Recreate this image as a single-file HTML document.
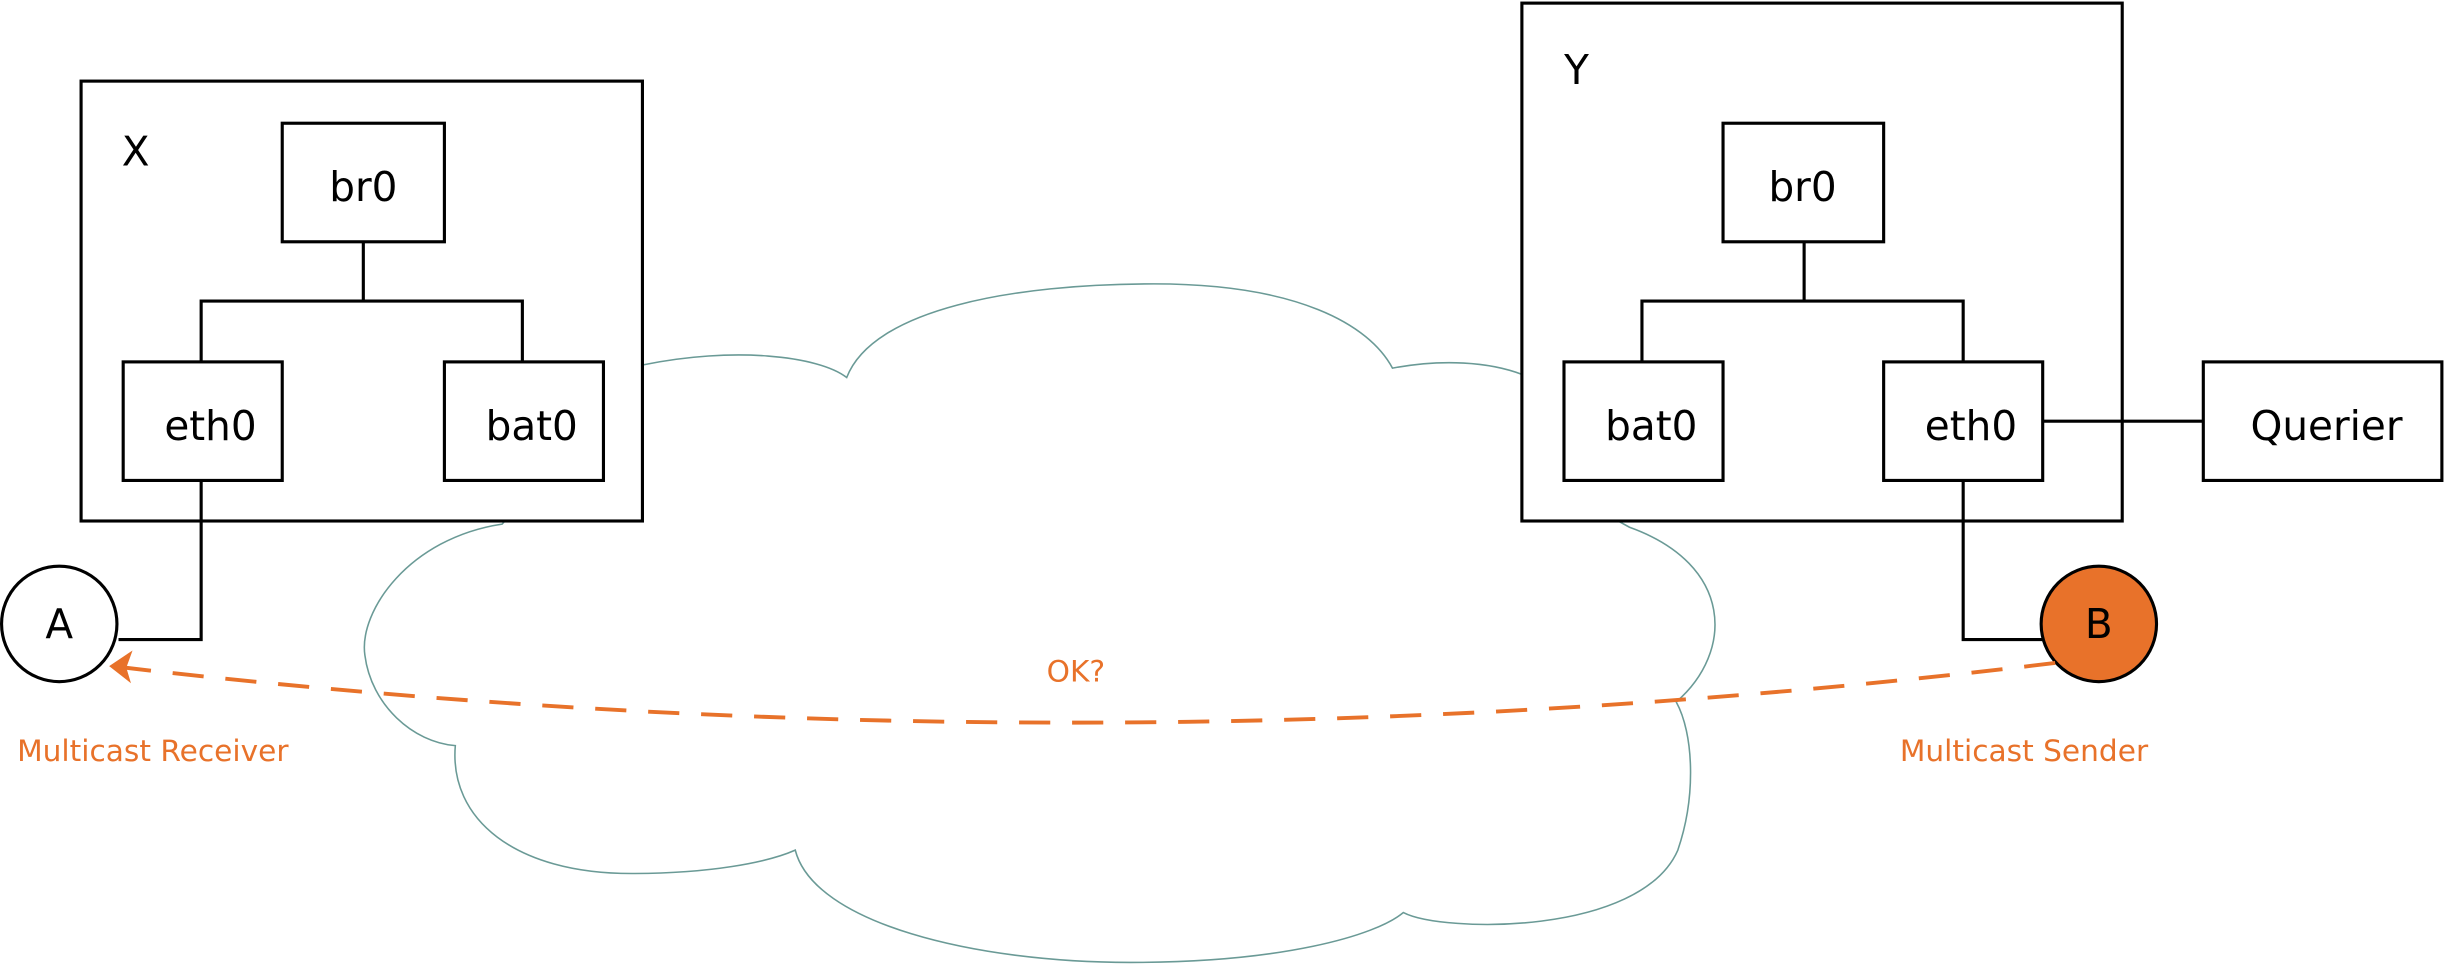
<!DOCTYPE html>
<html><head><meta charset="utf-8"><style>
html,body{margin:0;padding:0;background:#fff;}
svg{display:block;}
text{font-family:"DejaVu Sans","Liberation Sans",sans-serif;}
</style></head><body>
<svg width="2445" height="964" viewBox="0 0 1568 618" preserveAspectRatio="none">
<g fill="#fff" stroke="#6a9a96" stroke-width="1">
<path d="M 322,336 C 262,345 230,392 234,420 C 238,452 265,476 292,478 C 288,525 330,560 405,560 C 455,560 492,553 510,545 C 522,592 625,617 725,617 C 822,617 882,600 900,585 C 925,598 1052,600 1076,545 C 1088,510 1086,470 1075,450 C 1112,418 1112,362 1045,338 L 976,300 L 976,240 C 955,232 925,230 893,236 C 878,208 832,182 740,182 C 650,182 560,198 543,242 C 525,228 470,222 412,234 Z"/>
</g>
<g fill="#fff" stroke="#000" stroke-width="2">
<rect x="52" y="52" width="360" height="282"/>
<rect x="976" y="2" width="385" height="332"/>
<rect x="181" y="79" width="104" height="76"/>
<rect x="79" y="232" width="102" height="76"/>
<rect x="285" y="232" width="102" height="76"/>
<rect x="1105" y="79" width="103" height="76"/>
<rect x="1003" y="232" width="102" height="76"/>
<rect x="1208" y="232" width="102" height="76"/>
<rect x="1413" y="232" width="153" height="76"/>
</g>
<g fill="none" stroke="#000" stroke-width="2">
<path d="M233,155 V193 M129,232 V193 H335 V232"/>
<path d="M1157,155 V193 M1053,232 V193 H1259 V232"/>
<path d="M1310,270 H1413"/>
<path d="M129,308 V410 H76"/>
<path d="M1259,308 V410 H1310"/>
</g>
<circle cx="38" cy="400" r="37" fill="#fff" stroke="#000" stroke-width="2"/>
<circle cx="1346" cy="400" r="37" fill="#e8722a" stroke="#000" stroke-width="2"/>
<path d="M1318,425 Q700,500 80,428" fill="none" stroke="#e8722a" stroke-width="2.5" stroke-dasharray="20,14"/>
<path d="M70,427 L85,417 L81,428 L84,438 Z" fill="#e8722a"/>
<g font-size="26" fill="#000" text-anchor="middle">
<text x="87" y="106">X</text>
<text x="1011" y="54">Y</text>
<text x="233" y="129">br0</text>
<text x="135" y="282">eth0</text>
<text x="341" y="282">bat0</text>
<text x="1156" y="129">br0</text>
<text x="1059" y="282">bat0</text>
<text x="1264" y="282">eth0</text>
<text x="1492" y="282">Querier</text>
<text x="38" y="409">A</text>
<text x="1346" y="409">B</text>
</g>
<g font-size="19" fill="#e8722a" text-anchor="middle">
<text x="690" y="437">OK?</text>
<text x="98" y="488">Multicast Receiver</text>
<text x="1298" y="488">Multicast Sender</text>
</g>
</svg>
</body></html>
